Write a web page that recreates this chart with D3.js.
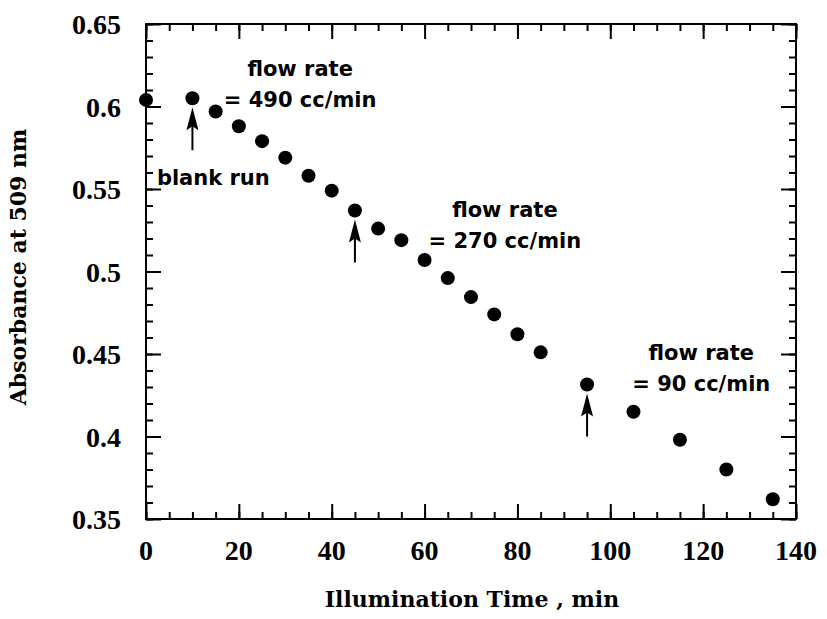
<!DOCTYPE html>
<html>
<head>
<meta charset="utf-8">
<script src="https://cdn.jsdelivr.net/npm/d3@7"></script>
<style>
  body { margin: 0; background: #fff; }
  .tick-label { font-family: "Liberation Serif", "Times New Roman", serif; font-weight: bold; font-size: 28px; }
  .axis-title { font-family: "DejaVu Serif", serif; font-weight: bold; font-size: 22px; }
  .note { font-family: "DejaVu Sans", sans-serif; font-weight: bold; font-size: 21px; }
</style>
</head>
<body>
<div id="vis"></div>
<script>
// illumination time (min) and absorbance at 509 nm
var times = [0, 10, 15, 20, 25, 30, 35, 40, 45, 50, 55, 60, 65, 70, 75, 80, 85, 95, 105, 115, 125, 135];
var absorbance = [0.604, 0.605, 0.597, 0.588, 0.579, 0.569, 0.558, 0.549, 0.537, 0.526, 0.519, 0.507,
                  0.496, 0.4845, 0.474, 0.462, 0.451, 0.4315, 0.415, 0.398, 0.380, 0.362];

// tick labels
var xTicks = [0, 20, 40, 60, 80, 100, 120, 140];
var yTicks = [0.35, 0.4, 0.45, 0.5, 0.55, 0.6, 0.65];

// arrows mark the time where flow rate changed
var arrowTimes = [10, 45, 95];

// annotation text lines
var noteLines = [
  ['flow rate', '= 490 cc/min'],
  ['flow rate', '= 270 cc/min'],
  ['flow rate', '= 90 cc/min']
];

var width = 827;
var height = 619;
var margin = { top: 24, right: 31, bottom: 100, left: 146 };

var x = d3.scaleLinear().domain([0, 140]).range([margin.left, width - margin.right]);
var y = d3.scaleLinear().domain([0.35, 0.65]).range([height - margin.bottom, margin.top]);

var svg = d3.select('#vis').append('svg')
  .attr('width', width)
  .attr('height', height);

// minor + major ticks, pointing inward on all four sides
function tickAxis(axisFn, scale, values, size, transform) {
  var g = svg.append('g')
    .attr('transform', transform)
    .call(axisFn(scale).tickValues(values).tickSize(size).tickFormat(''));
  g.select('.domain').remove();
  g.selectAll('line').attr('stroke', '#000').attr('stroke-width', 2);
  return g;
}

var xMinor = d3.range(0, 141, 5);
var yMinor = d3.range(35, 66, 1).map(function (d) { return d / 100; });

tickAxis(d3.axisBottom, x, xMinor, -7, 'translate(0,' + y(0.35) + ')');
tickAxis(d3.axisBottom, x, xTicks, -15, 'translate(0,' + y(0.35) + ')');
tickAxis(d3.axisTop, x, xMinor, -7, 'translate(0,' + y(0.65) + ')');
tickAxis(d3.axisTop, x, xTicks, -15, 'translate(0,' + y(0.65) + ')');
tickAxis(d3.axisLeft, y, yMinor, -7, 'translate(' + x(0) + ',0)');
tickAxis(d3.axisLeft, y, yTicks, -15, 'translate(' + x(0) + ',0)');
tickAxis(d3.axisRight, y, yMinor, -7, 'translate(' + x(140) + ',0)');
tickAxis(d3.axisRight, y, yTicks, -15, 'translate(' + x(140) + ',0)');

// frame
svg.append('rect')
  .attr('x', x(0))
  .attr('y', y(0.65))
  .attr('width', x(140) - x(0))
  .attr('height', y(0.35) - y(0.65))
  .attr('fill', 'none')
  .attr('stroke', '#000')
  .attr('stroke-width', 2);

// tick labels
svg.selectAll('.xlab')
  .data(xTicks)
  .enter().append('text')
  .attr('class', 'tick-label')
  .attr('x', function (d) { return x(d); })
  .attr('y', y(0.35) + 41)
  .attr('text-anchor', 'middle')
  .text(function (d) { return d; });

svg.selectAll('.ylab')
  .data(yTicks)
  .enter().append('text')
  .attr('class', 'tick-label')
  .attr('x', x(0) - 25)
  .attr('y', function (d) { return y(d); })
  .attr('dy', '0.36em')
  .attr('text-anchor', 'end')
  .text(function (d) { return d; });

// axis titles
svg.append('text')
  .attr('class', 'axis-title')
  .attr('x', 472)
  .attr('y', 607)
  .attr('text-anchor', 'middle')
  .text('Illumination Time , min');

svg.append('text')
  .attr('class', 'axis-title')
  .attr('transform', 'translate(26,267) rotate(-90)')
  .attr('text-anchor', 'middle')
  .text('Absorbance at 509 nm');

// data points
var points = times.map(function (t, i) { return { t: t, a: absorbance[i] }; });

svg.selectAll('.dot')
  .data(points)
  .enter().append('circle')
  .attr('class', 'dot')
  .attr('cx', function (d) { return x(d.t); })
  .attr('cy', function (d) { return y(d.a); })
  .attr('r', 7)
  .attr('fill', '#000');

// arrows under the marked points
arrowTimes.forEach(function (t) {
  var i = times.indexOf(t);
  var px = x(t);
  var tip = y(absorbance[i]) + 9;
  svg.append('line')
    .attr('x1', px).attr('x2', px)
    .attr('y1', tip + 15).attr('y2', tip + 43)
    .attr('stroke', '#000')
    .attr('stroke-width', 2);
  svg.append('path')
    .attr('d', 'M' + px + ',' + tip + 'L' + (px - 6) + ',' + (tip + 23) +
               'L' + px + ',' + (tip + 19) + 'L' + (px + 6) + ',' + (tip + 23) + 'Z')
    .attr('fill', '#000');
});

// annotation anchors in data units (time, absorbance of first baseline)
var noteAnchors = [[33.2, 0.6185], [77.3, 0.533], [119.6, 0.4466]];

noteLines.forEach(function (lines, k) {
  var t = svg.append('text')
    .attr('class', 'note')
    .attr('text-anchor', 'middle');
  lines.forEach(function (s, j) {
    t.append('tspan')
      .attr('x', x(noteAnchors[k][0]))
      .attr('y', y(noteAnchors[k][1]) + j * 31)
      .text(s);
  });
});

svg.append('text')
  .attr('class', 'note')
  .attr('x', x(14.5))
  .attr('y', y(0.5525))
  .attr('text-anchor', 'middle')
  .text('blank run');
</script>
</body>
</html>
